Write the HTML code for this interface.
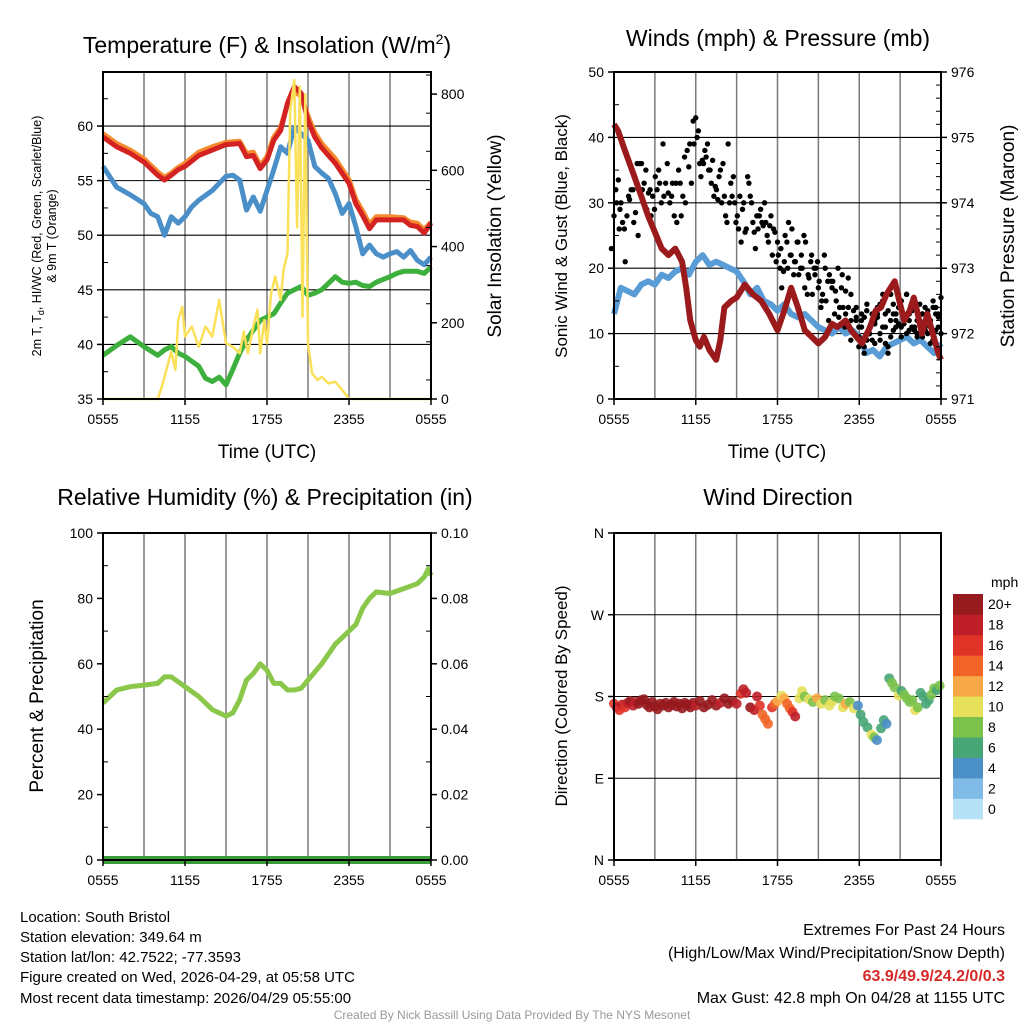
<!DOCTYPE html>
<html><head><meta charset="utf-8"><style>
html,body{margin:0;padding:0;background:#fff}
svg{display:block;font-family:"Liberation Sans",sans-serif}
</style></head><body>
<svg id="c" width="1024" height="1024" viewBox="0 0 1024 1024" xmlns="http://www.w3.org/2000/svg">
<rect width="1024" height="1024" fill="#fff"/>
<text x="267" y="53" font-size="23" text-anchor="middle">Temperature (F) &amp; Insolation (W/m<tspan font-size="14" dy="-9">2</tspan><tspan dy="9">)</tspan></text>
<text x="778" y="46" font-size="23" text-anchor="middle">Winds (mph) &amp; Pressure (mb)</text>
<text x="265" y="505" font-size="23" text-anchor="middle">Relative Humidity (%) &amp; Precipitation (in)</text>
<text x="778" y="505" font-size="23" text-anchor="middle">Wind Direction</text>
<text x="267" y="458" font-size="19" text-anchor="middle">Time (UTC)</text>
<text x="777" y="458" font-size="19" text-anchor="middle">Time (UTC)</text>
<text transform="translate(41,236) rotate(-90)" font-size="12.5" text-anchor="middle">2m T, T<tspan font-size="9" dy="3">d</tspan><tspan dy="-3">, HI/WC (Red, Green, Scarlet/Blue)</tspan></text>
<text transform="translate(56,236) rotate(-90)" font-size="12.5" text-anchor="middle">&amp; 9m T (Orange)</text>
<text transform="translate(501,236) rotate(-90)" font-size="19" text-anchor="middle">Solar Insolation (Yellow)</text>
<text transform="translate(567,236) rotate(-90)" font-size="17" text-anchor="middle">Sonic Wind &amp; Gust (Blue, Black)</text>
<text transform="translate(1014,236) rotate(-90)" font-size="19" text-anchor="middle">Station Pressure (Maroon)</text>
<text transform="translate(43,696) rotate(-90)" font-size="19" text-anchor="middle">Percent &amp; Precipitation</text>
<text transform="translate(567,696) rotate(-90)" font-size="17" text-anchor="middle">Direction (Colored By Speed)</text>
<g font-size="15">
<text x="20" y="922">Location: South Bristol</text>
<text x="20" y="942">Station elevation: 349.64 m</text>
<text x="20" y="962">Station lat/lon: 42.7522; -77.3593</text>
<text x="20" y="982">Figure created on Wed, 2026-04-29, at 05:58 UTC</text>
<text x="20" y="1003">Most recent data timestamp: 2026/04/29 05:55:00</text>
</g>
<g font-size="16" text-anchor="end">
<text x="1005" y="935">Extremes For Past 24 Hours</text>
<text x="1005" y="958">(High/Low/Max Wind/Precipitation/Snow Depth)</text>
<text x="1005" y="981" fill="#d42a2a" font-weight="bold">63.9/49.9/24.2/0/0.3</text>
<text x="1005" y="1003">Max Gust: 42.8 mph On 04/28 at 1155 UTC</text>
</g>
<text x="512" y="1019" font-size="12" fill="#999" text-anchor="middle">Created By Nick Bassill Using Data Provided By The NYS Mesonet</text>
<g id="g"></g>
</svg>
<script>
// ---- data ----
const tHours = [0,1,2,3,4,4.5,5,5.5,6,7,8,9,10,10.5,11,11.5,12,12.5,13,13.5,14,14.5,15,15.5,16,17,18,18.5,19,19.5,20,21,22,22.5,23,23.5,24];
const tempRed = [59.0,58.1,57.5,56.7,55.5,55.05,55.5,56.0,56.3,57.3,57.8,58.3,58.4,57.2,57.3,56.1,56.9,58.7,59.6,62.1,63.6,63.0,60.5,59.0,58.0,56.6,54.75,52.9,51.8,50.6,51.4,51.4,51.4,50.9,50.8,50.2,51.1];
const tempOrange = [59.3,58.4,57.8,57.0,55.8,55.3,55.7,56.2,56.6,57.6,58.1,58.5,58.6,57.5,57.6,56.4,57.2,59.0,59.9,62.0,63.2,62.7,60.9,59.4,58.4,57.0,55.1,53.3,52.2,51.0,51.7,51.7,51.6,51.2,51.1,50.5,51.2];
const wcHours = [0,1,2,3,3.5,4,4.5,5,5.5,6,6.5,7,8,9,9.5,10,10.5,11,11.5,12,12.5,13,13.5,14,14.5,15,15.5,16,16.5,17,17.5,18,18.5,19,19.5,20,20.5,21,21.5,22,22.5,23,23.5,24];
const windChill = [56.3,54.4,53.7,52.9,52.0,51.7,50.0,51.7,51.1,51.7,52.6,53.2,54.1,55.4,55.5,55.05,52.3,53.5,52.2,54.1,56.0,58.1,57.5,59.9,59.3,58.7,56.3,55.7,55.2,53.8,52.0,52.9,50.8,48.3,49.1,48.3,48.0,48.3,48.5,48.0,48.6,47.7,47.3,48.0];
const tdHours = [0,1,2,3,4,4.5,5,5.5,6,7,7.5,8,8.5,9,9.5,10,10.5,11,11.5,12,12.5,13,13.5,14,14.5,15,15.5,16,16.5,17,17.5,18,18.5,19,19.5,20,21,21.5,22,22.5,23,23.5,24];
const dewPoint = [39.0,39.9,40.7,39.8,39.0,39.5,39.8,39.2,38.9,38.0,36.9,36.6,37.0,36.3,37.7,39.2,40.4,41.3,42.2,42.5,42.8,43.8,44.7,45.0,45.3,44.5,44.7,45.0,45.6,46.2,45.7,45.6,45.7,45.4,45.3,45.7,46.2,46.5,46.7,46.7,46.7,46.5,47.1];
const solarHours = [0,4,4.3,5,5.3,5.5,5.8,6,6.5,7,7.5,8,8.5,9,9.5,10,10.3,10.6,11,11.3,11.5,11.8,12,12.3,12.6,13,13.2,13.5,13.7,14,14.2,14.4,14.6,14.8,15,15.3,15.7,16,16.5,17,17.5,18,24];
const solar = [0,0,32,124,76,207,242,164,190,137,190,164,260,146,137,120,177,120,190,234,120,207,146,277,321,260,338,382,758,837,450,820,216,800,146,67,50,58,41,45,24,0,0];
const windHours = [0,0.5,1,1.5,2,2.5,3,3.5,4,4.5,5,5.5,6,6.5,7,7.5,8,8.5,9,9.5,10,10.5,11,11.5,12,12.5,13,13.5,14,14.5,15,15.5,16,16.5,17,17.5,18,18.5,19,19.5,20,20.5,21,21.5,22,22.5,23,23.5,24];
const sonicWind = [13,17,16.5,16,17.5,18,17.5,19,18.5,19.5,20,19,21,22,20.5,21,20.5,20,19.5,18,16,17,15,14.5,13.5,14.5,13,12.5,13,12,11,10.5,10,11,10,10.5,9.5,7,7.5,6.5,8,8.5,9,9.5,8.5,9,8,7,8.5];
const presHours = [0,0.3,0.8,1.5,2,2.5,3,3.5,4,4.5,5,5.3,5.6,6,6.3,6.6,7,7.5,7.8,8.1,8.6,9,9.6,10.2,10.8,11.4,12,12.5,13,13.5,14,14.5,15,15.5,16,16.4,17,17.4,17.8,18.2,18.8,19.2,19.6,20,20.6,21,21.3,21.7,22,22.3,22.6,23,23.4,23.8,24];
const pressure = [975.2,975.1,974.8,974.4,974.1,973.8,973.55,973.3,973.2,973.3,973.1,972.7,972.2,971.9,971.8,971.95,971.75,971.6,971.9,972.4,972.5,972.55,972.75,972.6,972.5,972.3,972.05,972.35,972.7,972.4,972.05,971.95,971.85,971.95,972.15,972.1,972.2,972.05,971.95,971.85,972.1,972.35,972.4,972.6,972.8,972.45,972.2,972.35,972.55,972.3,972.0,972.3,972.0,971.7,971.6];
const gustTimes = [0,0.32,0.63,0.95,1.26,1.58,1.89,2.21,2.53,2.84,3.16,3.47,3.79,4.1,4.42,4.74,5.05,5.37,5.68,6,6.29,6.57,6.86,7.14,7.43,7.71,8.0,8.29,8.57,8.86,9.14,9.43,9.71,10.0,10.29,10.57,10.86,11.14,11.43,11.71,12,12.25,12.5,12.75,13,13.25,13.5,13.75,14,14.25,14.5,14.75,15,15.25,15.5,15.75,16,16.25,16.5,16.75,17,17.19,17.39,17.58,17.78,17.97,18.17,18.36,18.56,18.75,18.95,19.14,19.33,19.53,19.72,19.92,20.11,20.31,20.5,20.69,20.89,21.08,21.28,21.47,21.67,21.86,22.06,22.25,22.44,22.64,22.83,23.03,23.22,23.42,23.61,23.81,24];
const gustSpeeds = [[23,28,30,26],[32,33.5,30],[29,27,21],[26,28,30.5],[31,32,27],[32,28.5,25],[36,36,32],[36,33,29],[35,31.5,28],[32,31,34],[29,32,33],[35,30,31],[39,33,31.5],[36,30,33],[31,28,27],[33,35,28],[33,31,30],[37,38,39],[35.5,33,39],[42.5,43,41],[40,36,36.5],[34,36,37],[38,39,35],[35,33,31],[36.5,32.5,30.5],[32,34,30],[35,36,28],[31,27,30],[39,33,34],[31,30,28],[27,26,24],[31,29,25.5],[30,26,33],[34,31,27],[30,25.5,28],[23,26,29],[28,27,30],[26.5,27,24],[25,26.5,22],[28,26,21],[25.5,24,20],[22,23,19.5],[17,21,24],[25,20,22],[27,22,19],[26,21,24],[21,24,20],[19,22,25],[20,17,16],[24,19,21],[18.5,22,20],[16,19,21],[20,17,14],[18,15,22],[16,20,18],[15,12,18],[19,17,13],[18,16.5,20],[15,12.5,17],[14,19,11],[14,16.5,18.5],[13,11,9],[14,12,10],[16,13.5,12],[10,12.5,8],[14,11,12],[9.5,13,7],[11,8,13.5],[12.5,9,10],[14.5,11,13],[10,12,8.5],[9,11.5,14],[12,13,10],[12.5,14.5,11],[9,15,13],[16,11,8],[8.5,7,12],[13.5,16,10.5],[9.5,13,11],[14.5,12,16],[13,11.5,9.5],[14,11,12],[15,11.5,10],[13,16,10.5],[16,13,11],[12,14,10.5],[13.5,11,9.5],[10.5,12,14.5],[10,12,13],[11.5,9.5,14],[13,11,10],[10.5,12,8.5],[13.5,11,9],[12,14,10.5],[15,13,11],[14,12.5,10],[13,15.5]];
const rhHours = [0,1,2,3,4,4.5,5,6,7,8,9,9.5,10,10.5,11,11.5,12,12.5,13,13.5,14,14.5,15,16,17,18,18.5,19,19.5,20,21,22,23,23.5,23.8,24];
const relHum = [48,52,53,53.5,54,56,56,53,50,46,44,45,49,55,57,60,58,54,54,52,52,52.5,55,60,66,70,72,77,80,82,81.5,83,84.5,86.5,89,87];
const precip = [0,0];
const precipHours = [0,24];
const dirTimes = [0,0.2,0.4,0.6,0.8,1.0,1.2,1.4,1.6,1.8,2.0,2.2,2.4,2.6,2.8,3.0,3.2,3.4,3.6,3.8,4.0,4.2,4.4,4.6,4.8,5.0,5.2,5.4,5.6,5.8,6.0,6.3,6.6,6.9,7.2,7.5,7.8,8.1,8.4,8.7,9.0,9.3,9.5,9.7,10.0,10.3,10.5,10.7,10.9,11.1,11.3,11.6,11.8,12.0,12.3,12.5,12.7,12.9,13.1,13.3,13.6,13.8,14.0,14.3,14.6,14.9,15.2,15.5,15.8,16.0,16.2,16.5,16.8,17.0,17.3,17.6,17.9,18.1,18.3,18.6,18.9,19.1,19.3,19.6,19.8,20.0,20.2,20.4,20.6,20.9,21.1,21.3,21.5,21.7,21.9,22.1,22.3,22.5,22.7,22.9,23.1,23.3,23.5,23.7,23.9];
const dirDegrees = [172,168,165,171,168,173,175,170,174,172,176,177,171,168,174,169,166,172,170,173,168,171,174,169,172,167,173,171,168,173,170,175,168,171,176,170,173,178,172,175,172,183,188,184,168,165,180,170,160,155,150,168,172,175,181,178,172,167,163,158,178,186,180,177,174,178,172,176,170,174,180,178,168,172,174,167,170,160,152,146,138,135,132,145,154,150,200,195,190,181,186,182,178,174,176,165,168,184,180,172,176,182,189,187,192];
const dirSpeeds = [16,18,16,18,16,18,20,18,18,20,20,20,20,20,20,20,20,20,20,20,20,20,20,20,20,20,20,20,20,20,18,20,20,20,20,20,18,20,20,20,18,16,18,18,20,18,18,16,14,14,14,16,14,12,10,12,14,14,16,18,10,10,8,10,8,12,10,8,10,10,8,8,10,12,8,10,4,6,6,6,10,8,4,6,6,4,6,8,8,10,6,8,8,8,8,10,8,6,6,6,6,8,8,6,8];
const xTickLabels = ["0555","1155","1755","2355","0555"];
const xTickHours = [0,6,12,18,24];
const speedBins = ["0","2","4","6","8","10","12","14","16","18","20+"];
const speedColors = ["#b6e1f7","#7fbbe5","#4a8fc6","#47a676","#7bc24d","#e6e05a","#f8a846","#f26528","#df3328","#bf1f28","#961a1e"];

// ---- drawing ----
const NS = "http://www.w3.org/2000/svg";
const G = document.getElementById('g');
function el(tag, attrs, name, parent) {
  const e = document.createElementNS(NS, tag);
  for (const k in attrs) e.setAttribute(k, attrs[k]);
  
  
  (parent || G).appendChild(e);
  return e;
}
function lin(d0, d1, r0, r1) { return v => r0 + (v - d0) / (d1 - d0) * (r1 - r0); }
function pathOf(xs, ys, sx, sy) {
  return xs.map((t, i) => (i ? 'L' : 'M') + sx(t).toFixed(1) + ' ' + sy(ys[i]).toFixed(1)).join('');
}
function colorFor(s) { let i = Math.floor(s / 2); if (i > 10) i = 10; if (i < 0) i = 0; return speedColors[i]; }

function frame(P, sx, hGrid, sy) {
  for (let h = 3; h < 24; h += 3) {
    el('line', {x1: sx(h), x2: sx(h), y1: P.y0, y2: P.y1, stroke: '#7a7a7a', 'stroke-width': 1.5}, 'v-gridline');
  }
  hGrid.forEach(v => el('line', {x1: P.x0, x2: P.x1, y1: sy(v), y2: sy(v), stroke: '#000', 'stroke-width': 1.1}, 'h-gridline'));
}
function border(P) {
  el('rect', {x: P.x0, y: P.y0, width: P.x1 - P.x0, height: P.y1 - P.y0, fill: 'none', stroke: '#000', 'stroke-width': 2}, 'plot-frame');
}
function xAxis(P, sx) {
  xTickHours.forEach((h, i) => {
    el('line', {x1: sx(h), x2: sx(h), y1: P.y1, y2: P.y1 + 6, stroke: '#000', 'stroke-width': 1.5}, 'x-tick');
    const t = el('text', {x: sx(h), y: P.y1 + 25, 'font-size': 14, 'text-anchor': 'middle'}, 'x-tick-label');
    t.textContent = xTickLabels[i];
  });
}
function yAxis(P, sy, majors, labels, minors, side) {
  const x = side === 'L' ? P.x0 : P.x1, dir = side === 'L' ? -1 : 1;
  minors.forEach(v => el('line', {x1: x, x2: x - dir * 5, y1: sy(v), y2: sy(v), stroke: '#000', 'stroke-width': 1}, 'y-minor-tick'));
  majors.forEach((v, i) => {
    el('line', {x1: x, x2: x + dir * 6, y1: sy(v), y2: sy(v), stroke: '#000', 'stroke-width': 1.5}, 'y-tick');
    const t = el('text', {x: x + dir * 10, y: sy(v) + 5, 'font-size': 14, 'text-anchor': side === 'L' ? 'end' : 'start'}, 'y-tick-label');
    t.textContent = labels[i];
  });
}
function range(a, b, s) { const r = []; for (let v = a; v <= b + 1e-9; v += s) r.push(+v.toFixed(4)); return r; }

// Panel 1
{
  const P = {x0: 103, x1: 431, y0: 72, y1: 399};
  const sx = lin(0, 24, P.x0, P.x1), sy = lin(35, 64.95, P.y1, P.y0), sr = lin(0, 858, P.y1, P.y0);
  const maj = range(35, 60, 5);
  frame(P, sx, maj.slice(1), sy);
  el('path', {d: pathOf(tHours, tempOrange, sx, sy), fill: 'none', stroke: '#f58a2e', 'stroke-width': 5, 'stroke-linejoin': 'round'}, 'temp-9m-line');
  el('path', {d: pathOf(tHours, tempRed, sx, sy), fill: 'none', stroke: '#d42222', 'stroke-width': 5, 'stroke-linejoin': 'round'}, 'temp-2m-line');
  el('path', {d: pathOf(wcHours, windChill, sx, sy), fill: 'none', stroke: '#4a8fc8', 'stroke-width': 5, 'stroke-linejoin': 'round'}, 'windchill-line');
  el('path', {d: pathOf(tdHours, dewPoint, sx, sy), fill: 'none', stroke: '#3caf3c', 'stroke-width': 5, 'stroke-linejoin': 'round'}, 'dewpoint-line');
  el('path', {d: pathOf(solarHours, solar, sx, sr), fill: 'none', stroke: '#fbe15a', 'stroke-width': 2.5, 'stroke-linejoin': 'round'}, 'solar-line');
  border(P);
  yAxis(P, sy, maj, maj.map(String), range(37.5, 62.5, 5), 'L');
  yAxis(P, sr, range(0, 800, 200), range(0, 800, 200).map(String), range(50, 850, 100), 'R');
  xAxis(P, sx);
}
// Panel 2
{
  const P = {x0: 614, x1: 941, y0: 72, y1: 399};
  const sx = lin(0, 24, P.x0, P.x1), sy = lin(0, 50, P.y1, P.y0), sp = lin(971, 976, P.y1, P.y0);
  frame(P, sx, [10, 20, 30, 40], sy);
  el('path', {d: pathOf(windHours, sonicWind, sx, sy), fill: 'none', stroke: '#5a9dd6', 'stroke-width': 6, 'stroke-linejoin': 'round'}, 'sonic-wind-line');
  gustTimes.forEach((t, i) => gustSpeeds[i].forEach((v, j) => {
    el('circle', {cx: sx(t) + j * 2.6 - 2.6, cy: sy(v), r: 2.7, fill: '#000'}, 'gust-point');
  }));
  el('path', {d: pathOf(presHours, pressure, sx, sp), fill: 'none', stroke: '#9b1a1c', 'stroke-width': 6, 'stroke-linejoin': 'round'}, 'pressure-line');
  border(P);
  yAxis(P, sy, range(0, 50, 10), range(0, 50, 10).map(String), range(5, 45, 10), 'L');
  yAxis(P, sp, range(971, 976, 1), range(971, 976, 1).map(String), range(971.2, 975.8, 0.2), 'R');
  xAxis(P, sx);
}
// Panel 3
{
  const P = {x0: 103, x1: 431, y0: 533, y1: 860};
  const sx = lin(0, 24, P.x0, P.x1), sy = lin(0, 100, P.y1, P.y0), sq = lin(0, 0.1, P.y1, P.y0);
  frame(P, sx, [], sy);
  el('path', {d: pathOf(rhHours, relHum, sx, sy), fill: 'none', stroke: '#8bc74a', 'stroke-width': 5, 'stroke-linejoin': 'round'}, 'rh-line');
  el('path', {d: pathOf(precipHours, precip, sx, sq), fill: 'none', stroke: '#3a9b3a', 'stroke-width': 8}, 'precip-line');
  border(P);
  yAxis(P, sy, range(0, 100, 20), range(0, 100, 20).map(String), range(10, 90, 20), 'L');
  yAxis(P, sq, range(0, 0.1, 0.02), range(0, 0.1, 0.02).map(v => v.toFixed(2)), range(0.01, 0.09, 0.02), 'R');
  xAxis(P, sx);
}
// Panel 4
{
  const P = {x0: 614, x1: 941, y0: 533, y1: 860};
  const sx = lin(0, 24, P.x0, P.x1), sy = lin(0, 360, P.y1, P.y0);
  frame(P, sx, [90, 180, 270], sy);
  dirTimes.forEach((t, i) => {
    el('circle', {cx: sx(t), cy: sy(dirDegrees[i]), r: 5, fill: colorFor(dirSpeeds[i]), 'fill-opacity': 0.9}, 'direction-point');
  });
  border(P);
  yAxis(P, sy, [0, 90, 180, 270, 360], ['N', 'E', 'S', 'W', 'N'], [], 'L');
  xAxis(P, sx);
  const cb = {x: 953, y0: 594, y1: 819, w: 30};
  const bh = (cb.y1 - cb.y0) / speedBins.length;
  speedBins.forEach((lab, i) => {
    const y = cb.y1 - (i + 1) * bh;
    el('rect', {x: cb.x, y: y, width: cb.w, height: bh + 0.3, fill: speedColors[i]}, 'colorbar-box');
    const t = el('text', {x: cb.x + 35, y: y + bh / 2 + 5, 'font-size': 14}, 'colorbar-label');
    t.textContent = lab;
  });
  const u = el('text', {x: 991, y: 587, 'font-size': 14}, 'colorbar-unit');
  u.textContent = 'mph';
}
</script>
</body></html>
